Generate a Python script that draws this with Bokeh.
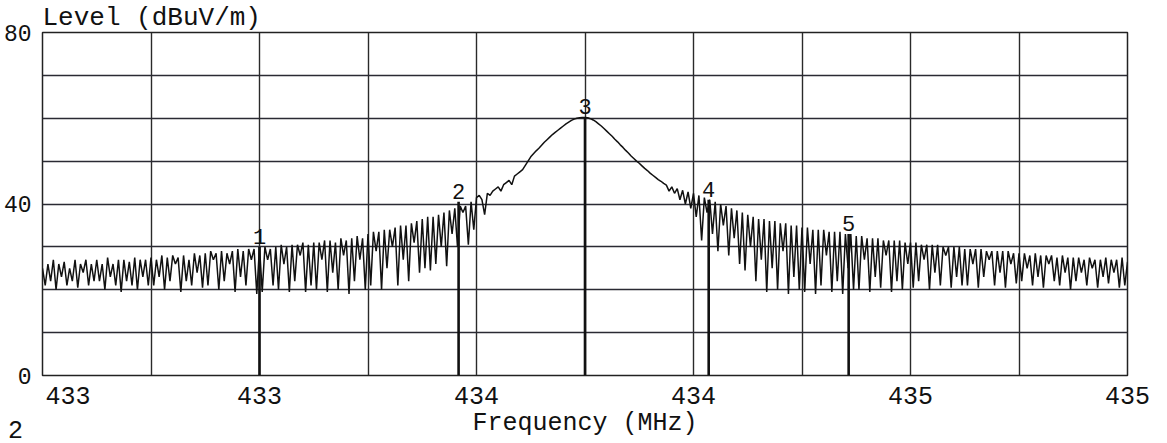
import numpy as np
from bokeh.plotting import figure
from bokeh.models import Range1d, FixedTicker, ColumnDataSource
from bokeh.core.properties import value
from bokeh.embed import file_html
from bokeh.resources import INLINE

FONT = "Liberation Mono"
NBSP = "\u00a0"

# ---- data ----
sweep_start_mhz = 433.0
sweep_stop_mhz = 435.0
level_dbuv = [
    # 433.0
    25, 21, 26, 22, 27, 20, 26, 23, 26.5, 21, 25, 22, 27, 20.5, 26, 24, 27, 21, 26, 22,
    # 433.1
    27, 22, 26, 20, 27.5, 23, 26, 21, 27, 19.5, 27, 22, 26.5, 21, 27.5, 20, 27, 23, 27, 21,
    # 433.2
    27.5, 21, 27, 23, 28, 20, 27.5, 22, 28, 26, 27.5, 19.5, 28, 22, 27, 21, 28.5, 24, 28, 20.5,
    # 433.3
    28.5, 21, 29, 27, 28.5, 20, 29, 22, 28.5, 26, 29, 19.5, 29.5, 23, 29, 21, 29.5, 27, 29.5, 19,
    # 433.4
    30, 19.5, 30, 27, 29.5, 21, 30, 20, 30.5, 26, 30, 19.5, 30.5, 22, 30.5, 28, 31, 19.5, 30.5, 21,
    # 433.5
    31, 20, 31, 27, 31.5, 19.5, 31.5, 24, 31, 20, 32, 28, 31.5, 19, 32, 22, 32.5, 27, 32, 20,
    # 433.6
    33, 21, 33.5, 29, 33.5, 20, 34, 25, 34, 30, 34.5, 21, 35, 27, 35, 22, 35.5, 31, 36, 24,
    # 433.7
    36.5, 25, 37, 24.5, 37, 26, 37.5, 30, 38, 25.5, 38.5, 33, 39, 30, 39.5, 38, 39.5, 30.5, 40.5, 34,
    # 433.8
    41.5, 42, 41, 37.5, 42.5, 42, 43, 43.5, 44, 43, 44.5, 45, 45.5, 44.5, 46.5, 47, 47.5, 48, 49, 50,
    # 433.9
    51, 51.7, 52.4, 53, 53.7, 54.4, 55, 55.6, 56.2, 56.7, 57.2, 57.7, 58.2, 58.7, 59.1, 59.5, 59.8, 60, 60.1, 60.2,
    # 434.0
    60.2, 60.1, 59.9, 59.6, 59.2, 58.7, 58.2, 57.6, 57, 56.4, 55.8, 55.1, 54.5, 53.8, 53.2, 52.5, 51.9, 51.2, 50.6, 50,
    # 434.1
    49.5, 48.9, 48.3, 47.8, 47.2, 46.7, 46.2, 45.7, 45.3, 44.8, 44.4, 43, 44, 42.5, 43.6, 41, 43.2, 40, 42.8, 39,
    # 434.2
    42.5, 37, 42, 31.5, 41.5, 38, 41, 33, 40.5, 29, 40, 35, 39.5, 28, 39, 32, 38.5, 26, 38, 24.5,
    # 434.3
    37.5, 30, 37, 22, 36.5, 27, 36.5, 19.5, 36, 25, 36, 20, 35.5, 29, 35.5, 19, 35, 23, 35, 20,
    # 434.4
    34.5, 19.5, 34.5, 26, 34, 19, 34, 21, 34, 28, 33.5, 19.5, 33.5, 22, 33.5, 19, 33, 25, 33, 20,
    # 434.5
    32.5, 20, 32.5, 27, 32, 19.5, 32, 23, 32, 20.5, 31.5, 28, 31.5, 19.5, 31.5, 22, 31.5, 20, 31, 26,
    # 434.6
    31, 20.5, 31, 22, 30.5, 27, 30.5, 20, 30.5, 24, 30.5, 21, 30, 28, 30, 20.5, 30, 23, 30, 21,
    # 434.7
    29.5, 21, 29.5, 26, 29.5, 20.5, 29.5, 23, 29, 27, 29, 21, 29, 24, 29, 20.5, 29, 26, 28.5, 21.5,
    # 434.8
    28.5, 22, 28.5, 25, 28, 21, 28.5, 23, 28, 20.5, 28, 26, 28, 22, 27.5, 21, 28, 24, 27.5, 20,
    # 434.9
    27.5, 22, 27.5, 24, 27, 21, 27.5, 25, 27, 20.5, 27, 23, 27.5, 21.5, 27, 24, 27, 20.5, 27.5, 21,
    # 435.0
    26.5,
]

marker_ids = ["1", "2", "3", "4", "5"]
marker_freq_mhz = [433.400, 433.767, 434.000, 434.228, 434.486]
marker_level_dbuv = [30.0, 40.5, 60.2, 41.0, 33.0]

x_tick_values = [433.0, 433.4, 433.8, 434.2, 434.6, 435.0]
x_tick_labels = ["433", "433", "434", "434", "435", "435"]
x_grid_values = [433.0, 433.2, 433.4, 433.6, 433.8, 434.0, 434.2, 434.4, 434.6, 434.8, 435.0]
y_tick_values = [0, 40, 80]
y_grid_values = [0, 10, 20, 30, 40, 50, 60, 70, 80]
page_number = "2"

# sweep points are evenly spaced across the analyser span
freq_mhz = np.linspace(sweep_start_mhz, sweep_stop_mhz, len(level_dbuv))

p = figure(
    frame_width=1085, frame_height=343,
    output_backend="svg", toolbar_location=None,
    x_range=Range1d(sweep_start_mhz, sweep_stop_mhz),
    y_range=Range1d(0, 80),
    min_border_left=34, min_border_right=32, min_border_top=27, min_border_bottom=40,
    title="Level (dBuV/m)",
)
p.background_fill_color = "white"
p.border_fill_color = "white"
p.outline_line_color = "#222222"
p.outline_line_width = 1.5

p.title.text_font = FONT
p.title.text_font_size = "26px"
p.title.text_font_style = "normal"
p.title.text_color = "#111111"
p.title.align = "left"
p.title.standoff = 0
p.title.offset = 0

# grid
p.xgrid.ticker = FixedTicker(ticks=x_grid_values)
p.ygrid.ticker = FixedTicker(ticks=y_grid_values)
p.xgrid.grid_line_color = "#2a2a2a"
p.ygrid.grid_line_color = "#2a2a33"
p.xgrid.grid_line_width = 1.4
p.ygrid.grid_line_width = 1.6

# axes
p.xaxis.ticker = FixedTicker(ticks=x_tick_values)
overrides = {v: s for v, s in zip(x_tick_values, x_tick_labels)}
# first frequency label starts at the frame's left edge; the sheet's page
# number sits one row lower at the far left
overrides[x_tick_values[0]] = (NBSP * 3 + x_tick_labels[0] + "\n" + page_number + NBSP * 4)
p.xaxis.major_label_overrides = overrides
p.yaxis.ticker = FixedTicker(ticks=y_tick_values)
for ax in (p.xaxis, p.yaxis):
    ax.axis_line_color = None
    ax.major_tick_line_color = None
    ax.minor_tick_line_color = None
    ax.major_label_text_font = FONT
    ax.major_label_text_color = "#111111"
p.xaxis.major_label_text_font_size = "25px"
p.yaxis.major_label_text_font_size = "23px"
p.xaxis.major_label_standoff = 1
p.yaxis.major_label_standoff = 5
p.xaxis.axis_label = "Frequency (MHz)"
p.xaxis.axis_label_text_font = FONT
p.xaxis.axis_label_text_font_size = "25px"
p.xaxis.axis_label_text_font_style = "normal"
p.xaxis.axis_label_text_color = "#111111"
p.xaxis.axis_label_standoff = -40

# trace
p.line(freq_mhz, level_dbuv, line_color="#111111", line_width=1.5)

# markers
msrc = ColumnDataSource(dict(f=marker_freq_mhz, lvl=marker_level_dbuv,
                             zero=[0] * len(marker_ids), ids=marker_ids))
p.segment(x0="f", y0="zero", x1="f", y1="lvl", source=msrc,
          line_color="#111111", line_width=2.6)
p.text(x="f", y="lvl", text="ids", source=msrc, text_font=value(FONT),
       text_font_size="22px", text_align="center", text_baseline="bottom",
       y_offset=-3, text_color="#111111")

open("out.html", "w").write(file_html(p, INLINE))
